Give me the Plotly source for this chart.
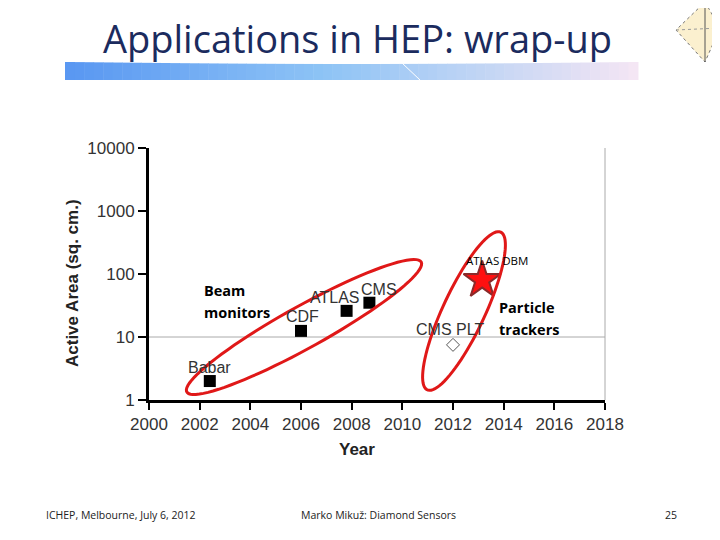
import numpy as np
import plotly.graph_objects as go

# ---- data ----
beam_names = ["Babar", "CDF", "ATLAS", "CMS"]
beam_years = [2002.4, 2006.0, 2007.8, 2008.7]
beam_area = [2.0, 12.5, 26.0, 35.0]

plt_name = ["CMS PLT"]
plt_year = [2012.0]
plt_area = [7.5]

dbm_name = ["ATLAS DBM"]
dbm_year = [2013.15]
dbm_area = [80.0]

x_ticks = [2000, 2002, 2004, 2006, 2008, 2010, 2012, 2014, 2016, 2018]
y_ticks = [1, 10, 100, 1000, 10000]

# ---- geometry helpers (reference pixel -> paper) ----
OFF = 8  # page body margin
W, H = 720 - OFF, 540 - OFF
L, R, T, B = 149, 605, 148, 400
def px(x):
    return (x - L) / (R - L)
def py(y):
    return (B - y) / (B - T)

def ellipse_path(cx, cy, a, b, ang_deg, n=90):
    t = np.linspace(0, 2 * np.pi, n)
    th = np.deg2rad(ang_deg)
    xs = cx + a * np.cos(t) * np.cos(th) - b * np.sin(t) * np.sin(th)
    ys = cy - (a * np.cos(t) * np.sin(th) + b * np.sin(t) * np.cos(th))
    pts = [f"{px(x):.5f},{py(y):.5f}" for x, y in zip(xs, ys)]
    return "M " + " L ".join(pts) + " Z"

fig = go.Figure()

fig.add_trace(go.Scatter(x=beam_years, y=beam_area, mode="markers",
                         marker=dict(symbol="square", size=12, color="black"),
                         showlegend=False))
fig.add_trace(go.Scatter(x=plt_year, y=plt_area, mode="markers",
                         marker=dict(symbol="diamond-open", size=10, color="#555555",
                                     line=dict(width=1)),
                         showlegend=False))
fig.add_trace(go.Scatter(x=dbm_year, y=dbm_area, mode="markers",
                         marker=dict(symbol="star", size=28, color="#ff1010",
                                     line=dict(color="#8a2a2a", width=2)),
                         showlegend=False))

shapes = []
shapes.append(dict(type="line", xref="paper", yref="y", x0=0, x1=1, y0=10, y1=10,
                   line=dict(color="#aaaaaa", width=1), layer="below"))
shapes.append(dict(type="line", xref="paper", yref="paper", x0=1, x1=1, y0=0, y1=1,
                   line=dict(color="#aaaaaa", width=1), layer="below"))
shapes.append(dict(type="path", xref="paper", yref="paper",
                   path=ellipse_path(304, 327, 134, 21, 29),
                   line=dict(color="#e01818", width=3)))
shapes.append(dict(type="path", xref="paper", yref="paper",
                   path=ellipse_path(464, 311, 87, 21, 65),
                   line=dict(color="#e01818", width=3)))
# gradient bar under title
x0b, x1b = 65, 638
nseg = 60
c0 = np.array([0x5a, 0x98, 0xf2]); c1 = np.array([0x8e, 0xc4, 0xf6]); c2 = np.array([0xf4, 0xe6, 0xf4])
for i in range(nseg):
    f = i / (nseg - 1)
    if f < 0.45:
        c = c0 + (c1 - c0) * (f / 0.45)
    else:
        c = c1 + (c2 - c1) * ((f - 0.45) / 0.55)
    xa = x0b + (x1b - x0b) * i / nseg
    xb = x0b + (x1b - x0b) * (i + 1) / nseg + 0.5
    shapes.append(dict(type="rect", xref="paper", yref="paper",
                       x0=px(xa), x1=px(xb), y0=py(80), y1=py(62 + 2 * np.sin(np.pi * f)),
                       fillcolor="rgb(%d,%d,%d)" % tuple(c.astype(int)), line=dict(width=0),
                       layer="below"))
shapes.append(dict(type="line", xref="paper", yref="paper", x0=px(402), x1=px(420),
                   y0=py(63), y1=py(80), line=dict(color="white", width=1)))
# logo at top-right
shapes.append(dict(type="path", xref="paper", yref="paper",
                   path=f"M {px(705)},{py(2)} L {px(720)},{py(28)} L {px(705)},{py(62)} L {px(676)},{py(30)} Z",
                   fillcolor="#fbf0cf", line=dict(color="#777777", width=1, dash="dot")))
shapes.append(dict(type="line", xref="paper", yref="paper", x0=px(705), x1=px(705),
                   y0=py(2), y1=py(62), line=dict(color="#555555", width=1)))
shapes.append(dict(type="line", xref="paper", yref="paper", x0=px(676), x1=px(720),
                   y0=py(30), y1=py(28), line=dict(color="#999999", width=1, dash="dot")))

ann = []
def A(**kw):
    kw.setdefault("showarrow", False)
    kw.setdefault("xanchor", "center")
    kw.setdefault("yanchor", "middle")
    ann.append(kw)

lab_font = dict(family="Liberation Sans, Arial", size=16, color="#333333")
offsets = {"Babar": (0, 14), "CDF": (1, 14), "ATLAS": (-12, 13), "CMS": (10, 13)}
for n, xv, yv in zip(beam_names, beam_years, beam_area):
    dx, dy = offsets[n]
    A(x=xv, y=np.log10(yv), text=n, xshift=dx, yshift=dy, font=lab_font)
A(x=plt_year[0], y=np.log10(plt_area[0]), text=plt_name[0], xshift=-3, yshift=15, font=lab_font)
A(x=dbm_year[0], y=np.log10(dbm_area[0]), text=dbm_name[0], xshift=15, yshift=20,
  font=dict(family="Open Sans", size=11.5, color="black"))
bold = dict(family="Open Sans", size=14.5, color="black")
for txt, xx, yy in [("Beam", 202, 290), ("monitors", 202, 312),
                    ("Particle", 497, 307), ("trackers", 497, 329)]:
    A(xref="paper", yref="paper", x=px(xx), y=py(yy), text=f"<b>{txt}</b>",
      xanchor="left", font=bold)
# title and footer
A(xref="paper", yref="paper", x=px(357), y=py(38), text="Applications in HEP: wrap-up",
  font=dict(family="Open Sans", size=38, color="#1b2b5e"))
foot = dict(family="Open Sans", size=10.5, color="#222222")
A(xref="paper", yref="paper", x=px(44), y=py(515), text="ICHEP, Melbourne, July 6, 2012",
  xanchor="left", font=foot)
A(xref="paper", yref="paper", x=px(378), y=py(515), text="Marko Mikuž: Diamond Sensors", font=foot)
A(xref="paper", yref="paper", x=px(671), y=py(515), text="25", font=foot)
# axis titles
A(xref="paper", yref="paper", x=px(72), y=py(283), text="<b>Active Area (sq. cm.)</b>",
  textangle=-90, font=dict(family="Liberation Sans, Arial", size=17, color="#222222"))
A(xref="paper", yref="paper", x=px(357), y=py(449), text="<b>Year</b>",
  font=dict(family="Liberation Sans, Arial", size=17, color="#222222"))

tick_font = dict(family="Liberation Sans, Arial", size=17, color="#333333")
fig.update_layout(
    width=W, height=H,
    margin=dict(l=L - OFF, r=W - (R - OFF), t=T - OFF, b=H - (B - OFF), pad=0),
    paper_bgcolor="white", plot_bgcolor="white",
    shapes=shapes, annotations=ann,
    xaxis=dict(range=[2000, 2018], tickvals=x_ticks, ticktext=[str(v) for v in x_ticks],
               showgrid=False, zeroline=False, showline=True, linecolor="black", linewidth=3,
               ticks="outside", ticklen=7, tickwidth=2, tickcolor="black",
               tickfont=tick_font),
    yaxis=dict(type="log", range=[0, 4], tickvals=y_ticks, ticktext=[str(v) for v in y_ticks],
               showgrid=False, zeroline=False, showline=True, linecolor="black", linewidth=3,
               ticks="outside", ticklen=8, tickwidth=2, tickcolor="black",
               tickfont=tick_font),
)

fig.write_html("out.html")
